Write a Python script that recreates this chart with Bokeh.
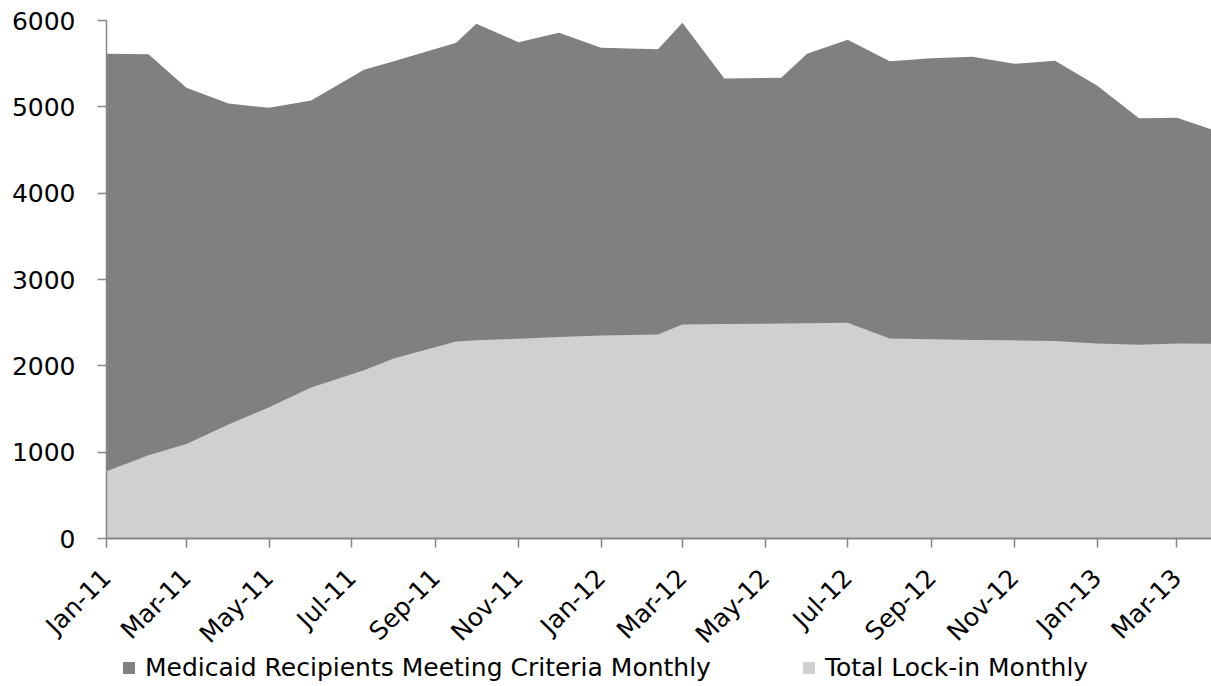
import pandas as pd
from bokeh.plotting import figure
from bokeh.models import (Range1d, FixedTicker, DatetimeTickFormatter, Legend,
                          LegendItem, ColumnDataSource)
from bokeh.embed import file_html
from bokeh.resources import INLINE
import math

# ---- data ----
dates = ["2011-01-01", "2011-02-01", "2011-03-01", "2011-04-01", "2011-05-01",
         "2011-06-01", "2011-07-10", "2011-08-01", "2011-09-16", "2011-10-01",
         "2011-11-01", "2011-12-01", "2012-01-01", "2012-02-12", "2012-03-01",
         "2012-04-01", "2012-05-13", "2012-06-01", "2012-07-01", "2012-08-01",
         "2012-09-01", "2012-10-01", "2012-11-01", "2012-12-01", "2013-01-01",
         "2013-02-01", "2013-03-01", "2013-04-01"]
medicaid = [5615, 5610, 5221, 5039, 4989, 5074, 5429, 5528, 5742, 5962,
            5749, 5858, 5684, 5668, 5974, 5328, 5336, 5615, 5777, 5529,
            5564, 5580, 5499, 5534, 5247, 4869, 4873, 4708]
lockin = [780, 965, 1095, 1320, 1520, 1748, 1950, 2086, 2282, 2295,
          2314, 2333, 2352, 2363, 2479, 2485, 2490, 2493, 2500, 2317,
          2307, 2300, 2295, 2288, 2259, 2245, 2259, 2255]
tick_dates = ["2011-01-01", "2011-03-01", "2011-05-01", "2011-07-01", "2011-09-01",
              "2011-11-01", "2012-01-01", "2012-03-01", "2012-05-01", "2012-07-01",
              "2012-09-01", "2012-11-01", "2013-01-01", "2013-03-01"]
y_ticks = [0, 1000, 2000, 3000, 4000, 5000, 6000]
series_names = ["Medicaid Recipients Meeting Criteria Monthly", "Total Lock-in Monthly"]

FONT = "DejaVu Sans"
AXIS_COLOR = "#868686"

# ---- layout (pixels) ----
W, H = 1211, 686
TOP, LEFT = 20, 106        # where value 6000 / date Jan-11 sit
PLOT_H = 518               # pixel height of the 0..6000 band
PLOT_W = W - LEFT          # pixel width from Jan-11 to the right edge
VISIBLE_DAYS = 815.5       # days shown from Jan-11 to the right edge
Y_MAX = 6000

# the frame fills the whole figure; axes are pinned inside it
px_per_val = PLOT_H / Y_MAX
y_lo = -(H - TOP - PLOT_H) / px_per_val
y_hi = Y_MAX + TOP / px_per_val
days_per_px = VISIBLE_DAYS / PLOT_W
x_start = pd.Timestamp(dates[0])
x_lo = x_start - pd.Timedelta(days=LEFT * days_per_px)
x_hi = x_start + pd.Timedelta(days=VISIBLE_DAYS)

src = ColumnDataSource(dict(x=pd.to_datetime(dates), m=medicaid, l=lockin))

p = figure(width=W, height=H, x_axis_type="datetime",
           x_range=Range1d(x_lo, x_hi), y_range=Range1d(y_lo, y_hi),
           output_backend="svg", toolbar_location=None,
           min_border_left=0, min_border_right=0, min_border_top=0,
           min_border_bottom=0)
p.outline_line_color = None
p.xgrid.visible = False
p.ygrid.visible = False
p.background_fill_color = "white"
p.border_fill_color = "white"

r1 = p.varea(x="x", y1=0, y2="m", source=src, fill_color="#808080")
r2 = p.varea(x="x", y1=0, y2="l", source=src, fill_color="#d0d0d0")

# x axis pinned at value 0
xa = p.xaxis[0]
xa.fixed_location = 0
xa.bounds = (x_start, x_hi)
xa.ticker = FixedTicker(ticks=[pd.Timestamp(d).value / 1e6 for d in tick_dates])
fmt = "%b-%y"
xa.formatter = DatetimeTickFormatter(
    microseconds=fmt, milliseconds=fmt, seconds=fmt, minsec=fmt, minutes=fmt,
    hourmin=fmt, hours=fmt, days=fmt, months=fmt, years=fmt, context=None)
xa.major_label_orientation = math.pi / 4
xa.axis_line_color = AXIS_COLOR
xa.axis_line_width = 2
xa.major_tick_line_color = AXIS_COLOR
xa.major_tick_line_width = 1.5
xa.major_tick_in = 0
xa.major_tick_out = 9
xa.minor_tick_line_color = None
xa.major_label_text_font = FONT
xa.major_label_text_font_size = "25px"
xa.major_label_text_color = "black"
xa.major_label_standoff = 26

# y axis pinned at the first date
ya = p.yaxis[0]
ya.fixed_location = x_start.value / 1e6
ya.bounds = (0, Y_MAX)
ya.ticker = FixedTicker(ticks=y_ticks)
ya.axis_line_color = AXIS_COLOR
ya.axis_line_width = 1.5
ya.major_tick_line_color = AXIS_COLOR
ya.major_tick_line_width = 1.5
ya.major_tick_in = 0
ya.major_tick_out = 9
ya.minor_tick_line_color = None
ya.major_label_text_font = FONT
ya.major_label_text_font_size = "25px"
ya.major_label_text_color = "black"
ya.major_label_standoff = 22

# legend at the bottom of the figure
leg = Legend(items=[LegendItem(label=series_names[0], renderers=[r1]),
                    LegendItem(label=series_names[1], renderers=[r2])],
             location=(121, 4), orientation="horizontal",
             padding=0, margin=0, spacing=90,
             glyph_width=15, glyph_height=15, label_standoff=9,
             label_text_font=FONT, label_text_font_size="25px",
             label_text_color="black", label_height=20,
             border_line_color=None, background_fill_alpha=0)
p.add_layout(leg)

open("out.html", "w").write(file_html(p, INLINE))
